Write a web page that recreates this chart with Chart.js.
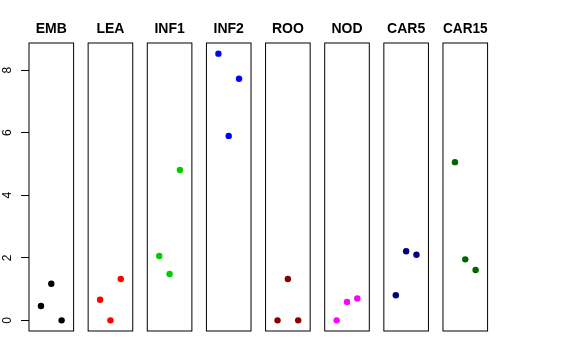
<!DOCTYPE html>
<html>
<head>
<meta charset="utf-8">
<script src="https://cdn.jsdelivr.net/npm/chart.js@4"></script>
<style>
  body { margin: 0; background: #fff; }
  #wrap { position: relative; width: 576px; height: 360px; overflow: hidden; }
  #wrap canvas { position: absolute; top: 0; }
</style>
</head>
<body>
<div id="wrap"></div>
<script>
const categories = ['EMB', 'LEA', 'INF1', 'INF2', 'ROO', 'NOD', 'CAR5', 'CAR15'];
const embValues = [0.46, 1.17, 0];
const leaValues = [0.66, 0, 1.32];
const inf1Values = [2.06, 1.48, 4.81];
const inf2Values = [8.53, 5.90, 7.73];
const rooValues = [0, 1.32, 0];
const nodValues = [0, 0.59, 0.70];
const car5Values = [0.80, 2.21, 2.10];
const car15Values = [5.06, 1.95, 1.61];
const yTicks = [0, 2, 4, 6, 8];
const colors = ['#000000', '#ff0000', '#00cd00', '#0000ff', '#8b0000', '#ff00ff', '#000080', '#006400'];

const seriesValues = [embValues, leaValues, inf1Values, inf2Values, rooValues, nodValues, car5Values, car15Values];

// same y range for every panel, padded 4% like R does
const all = seriesValues.flat();
const lo = Math.min(...all), hi = Math.max(...all);
const yMin = lo - (hi - lo) * 0.04;
const yMax = hi + (hi - lo) * 0.04;

const font = 'Liberation Sans, Arial, Helvetica, sans-serif';
const firstLeft = 29;     // left edge of first panel box
const pitch = 59.14;      // distance between panel boxes
const boxW = 44.6;
const axisW = 29;

// draws the frame around each panel
const panelBox = {
    id: 'panelBox',
    afterDraw(chart) {
        const { ctx, chartArea: a } = chart;
        ctx.save();
        ctx.strokeStyle = '#000';
        ctx.lineWidth = 1;
        ctx.strokeRect(a.left, a.top, a.right - a.left, a.bottom - a.top);
        ctx.restore();
    }
};

const wrap = document.getElementById('wrap');

categories.forEach((cat, i) => {
    const first = i === 0;
    const boxLeft = firstLeft + i * pitch;
    const canvasLeft = first ? 0 : Math.floor(boxLeft) - 9;
    const canvasW = first ? 84 : 64;
    const padLeft = first ? 0 : boxLeft - canvasLeft;
    const padRight = canvasW - (first ? axisW : padLeft) - boxW;

    const canvas = document.createElement('canvas');
    canvas.width = canvasW;
    canvas.height = 360;
    canvas.style.left = canvasLeft + 'px';
    wrap.appendChild(canvas);

    new Chart(canvas.getContext('2d'), {
        type: 'scatter',
        data: {
            datasets: [{
                data: seriesValues[i].map((v, j) => ({ x: j + 1, y: v })),
                backgroundColor: colors[i],
                borderWidth: 0,
                pointRadius: 3.2,
                pointHoverRadius: 3.2
            }]
        },
        options: {
            responsive: false,
            animation: false,
            layout: { padding: { left: padLeft, right: padRight, top: 0, bottom: 29 } },
            plugins: {
                legend: { display: false },
                tooltip: { enabled: false },
                title: {
                    display: true,
                    text: cat,
                    fullSize: false,
                    color: '#000',
                    font: { family: font, size: 14, weight: 'bold' },
                    padding: { top: 20.6, bottom: 5.6 }
                }
            },
            scales: {
                x: { type: 'linear', display: false, min: -0.16, max: 4.16 },
                y: {
                    type: 'linear',
                    display: first,
                    min: yMin,
                    max: yMax,
                    afterBuildTicks: s => { s.ticks = yTicks.map(v => ({ value: v })); },
                    afterFit: s => { if (first) s.width = axisW; },
                    grid: { drawOnChartArea: false, tickLength: 8, color: '#000', lineWidth: 1 },
                    border: { display: false },
                    ticks: {
                        color: '#000',
                        font: { family: font, size: 12 },
                        minRotation: 90,
                        maxRotation: 90,
                        crossAlign: 'center',
                        padding: 10
                    }
                }
            }
        },
        plugins: [panelBox]
    });
});
</script>
</body>
</html>
